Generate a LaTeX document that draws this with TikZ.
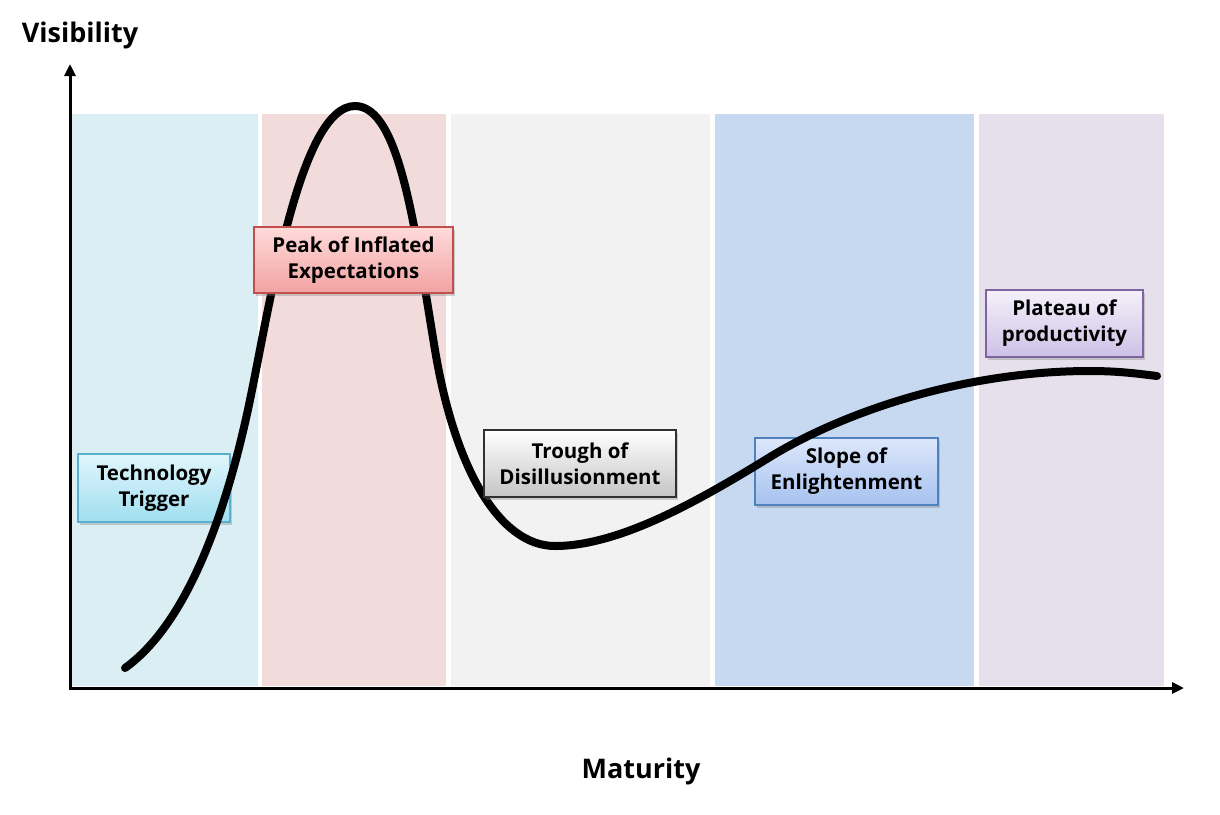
\documentclass[tikz,border=0pt]{standalone}
\usepackage{fontspec}
\setmainfont{Open Sans}
\usetikzlibrary{shadows,arrows.meta}
\definecolor{bandA}{HTML}{DBEEF3}
\definecolor{bandB}{HTML}{F2DCDB}
\definecolor{bandC}{HTML}{F2F2F2}
\definecolor{bandD}{HTML}{C6D9F1}
\definecolor{bandE}{HTML}{E5E0EC}
\definecolor{tTop}{HTML}{E0F6FC}\definecolor{tBot}{HTML}{A0DEF0}\definecolor{tLine}{HTML}{5AAFCF}
\definecolor{pTop}{HTML}{FFDADA}\definecolor{pBot}{HTML}{F2A2A2}\definecolor{pLine}{HTML}{C0504D}
\definecolor{gTop}{HTML}{FFFFFF}\definecolor{gBot}{HTML}{C4C4C4}\definecolor{gLine}{HTML}{303030}
\definecolor{sTop}{HTML}{DDE7FB}\definecolor{sBot}{HTML}{A6C2F0}\definecolor{sLine}{HTML}{4F81BD}
\definecolor{lTop}{HTML}{F4F1FA}\definecolor{lBot}{HTML}{CDC1E6}\definecolor{lLine}{HTML}{8064A2}
\begin{document}
\begin{tikzpicture}[x=1pt,y=-1pt,
  phasebox/.style={draw, line width=1.2pt, align=center, inner sep=0pt,
    font=\fontsize{20.5}{26}\selectfont\bfseries,
    drop shadow={opacity=0.35, shadow xshift=2pt, shadow yshift=-3pt}},
  axis/.style={line width=3pt, -{Triangle[length=12pt,width=11pt]}},
  axislabel/.style={font=\fontsize{27}{32}\selectfont\bfseries}]
\useasboundingbox (0,0) rectangle (1220,814);
% bands
\fill[bandA] (72,114) rectangle (258,686);
\fill[bandB] (262,114) rectangle (446,686);
\fill[bandC] (451,114) rectangle (710,686);
\fill[bandD] (715,114) rectangle (974,686);
\fill[bandE] (979,114) rectangle (1164,686);
% axes
\coordinate (o) at (70,688);
\coordinate (ytip) at (70,64);
\coordinate (xtip) at (1184,688);
\draw[axis] (70,689.5) -- (ytip);
\draw[axis] (68.5,688) -- (xtip);
\node[axislabel] (vis) at (80,35) {Visibility};
\node[axislabel] (mat) at (641,771) {Maturity};
% boxes below the curve
\node[phasebox, draw=tLine, top color=tTop, bottom color=tBot,
  minimum width=152pt, minimum height=68pt] (tt) at (154,488) {Technology\\Trigger};
\node[phasebox, draw=sLine, top color=sTop, bottom color=sBot,
  minimum width=183pt, minimum height=67pt] (se) at (846.5,471.5) {Slope of\\Enlightenment};
% curve
\draw[line width=8pt, line cap=round, line join=round]
  (125,668) .. controls (185,625) and (225,520) .. (250,400)
  .. controls (270,304) and (300,106) .. (355,106)
  .. controls (400,106) and (415,230) .. (435,350)
  .. controls (455,470) and (500,546) .. (555,546)
  .. controls (620,546) and (700,500) .. (770,457)
  .. controls (840,414) and (960,371) .. (1090,371)
  .. controls (1120,371) and (1140,374) .. (1157,376);
% boxes above the curve
\node[phasebox, draw=pLine, top color=pTop, bottom color=pBot,
  minimum width=199pt, minimum height=66pt] (pe) at (353.5,260) {Peak of Inflated\\Expectations};
\node[phasebox, draw=gLine, top color=gTop, bottom color=gBot,
  minimum width=192pt, minimum height=67pt] (td) at (580,463.5) {Trough of\\Disillusionment};
\node[phasebox, draw=lLine, top color=lTop, bottom color=lBot,
  minimum width=157pt, minimum height=67pt] (pp) at (1064.5,323.5) {Plateau of\\productivity};
\end{tikzpicture}
\end{document}
